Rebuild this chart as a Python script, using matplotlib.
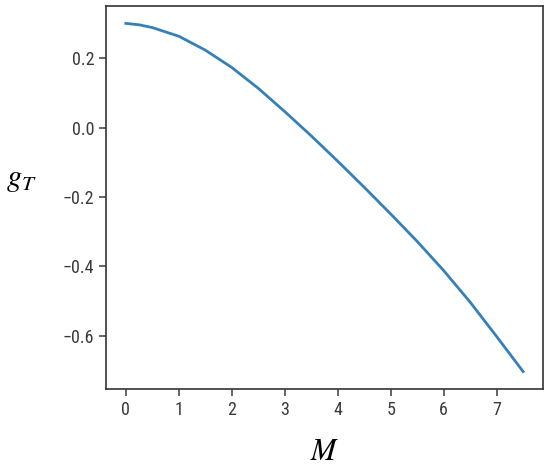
import matplotlib
matplotlib.use("Agg")
import matplotlib.pyplot as plt
from matplotlib import font_manager

available = {f.name for f in font_manager.fontManager.ttflist}
narrow = [n for n in ['Roboto Condensed', 'Liberation Sans Narrow', 'Open Sans Condensed',
                      'DejaVu Sans Condensed', 'Noto Sans Condensed'] if n in available]
plt.rcParams['font.family'] = narrow + ['DejaVu Sans']
plt.rcParams['mathtext.fontset'] = 'stix'

# data
M_values = [0.0, 0.25, 0.5, 1.0, 1.5, 2.0, 2.5, 3.0, 3.5, 4.0, 4.5, 5.0, 5.5, 6.0, 6.5, 7.0, 7.5]
gT_values = [0.300, 0.296, 0.288, 0.263, 0.223, 0.173, 0.113, 0.046, -0.024, -0.097,
             -0.172, -0.249, -0.328, -0.412, -0.503, -0.602, -0.703]
x_ticks = [0, 1, 2, 3, 4, 5, 6, 7]
y_ticks = [-0.6, -0.4, -0.2, 0.0, 0.2]

fig = plt.figure(figsize=(5.5, 4.66), dpi=100)
ax = fig.add_axes([106/550, 1 - 389/466, (543-106)/550, (389-6)/466])
ax.plot(M_values, gT_values, color='#3580b8', linewidth=2.0)

ax.set_xticks(x_ticks)
ax.set_yticks(y_ticks)
ax.set_yticklabels([f"{v:.1f}".replace('-', '\u2212') for v in y_ticks])
lsize = 13 if narrow else 11.5
ax.tick_params(labelsize=lsize, colors='#3a3a3a', length=5, width=1.1)
for s in ax.spines.values():
    s.set_color('#333333')
    s.set_linewidth(1.2)

ax.set_xlabel('$M$', fontsize=22, va='center', ha='center')
ax.set_ylabel('$g_T$', fontsize=22, rotation=0, va='center', ha='center')
ax.xaxis.set_label_coords(0.5, (389-452)/383)
ax.yaxis.set_label_coords((21-106)/437, (389-180)/383)

fig.savefig('out.png', dpi=100)
